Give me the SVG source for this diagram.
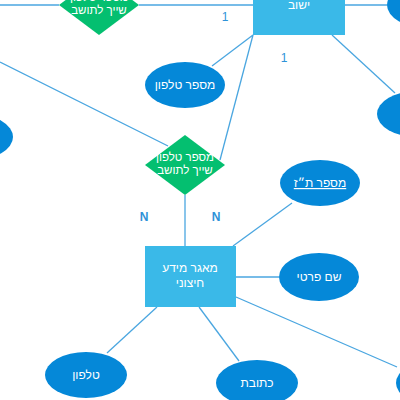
<svg xmlns="http://www.w3.org/2000/svg" width="400" height="400" viewBox="0 0 400 400">
<style>
.ent{fill:#3ab9e8;}
.attr{fill:#0588d8;}
.rel{fill:#04bf70;}
.t{fill:#ffffff;font-family:"Liberation Sans","DejaVu Sans",sans-serif;font-size:12px;text-anchor:middle;}
.t2{fill:#ffffff;font-family:"Liberation Sans","DejaVu Sans",sans-serif;font-size:11.5px;text-anchor:middle;}
.ln{stroke:#4aa6e0;stroke-width:1.3;fill:none;}
.lbl{fill:#2e92d8;font-family:"Liberation Sans","DejaVu Sans",sans-serif;font-size:12px;text-anchor:middle;}
.lblb{font-weight:bold;}
</style>
<rect width="400" height="400" fill="#ffffff"/>
<g id="connectors">
<line class="ln" x1="0" y1="5" x2="59" y2="5"/>
<line class="ln" x1="139" y1="5" x2="253" y2="5"/>
<line class="ln" x1="345" y1="5" x2="387" y2="5"/>
<line class="ln" x1="253" y1="35" x2="212" y2="66"/>
<line class="ln" x1="253" y1="35" x2="220" y2="160"/>
<line class="ln" x1="332" y1="35" x2="395" y2="93"/>
<line class="ln" x1="0" y1="62" x2="168" y2="146"/>
<line class="ln" x1="185" y1="195" x2="185" y2="246"/>
<line class="ln" x1="233" y1="246" x2="292" y2="203"/>
<line class="ln" x1="236" y1="277" x2="279" y2="277"/>
<line class="ln" x1="236" y1="297" x2="397" y2="367"/>
<line class="ln" x1="199" y1="307" x2="239" y2="361"/>
<line class="ln" x1="157" y1="307" x2="107" y2="353"/>
</g>
<g id="labels">
<text class="lbl" x="225" y="21">1</text>
<text class="lbl" x="284" y="62">1</text>
<text class="lbl lblb" x="144" y="221">N</text>
<text class="lbl lblb" x="216" y="221">N</text>
</g>
<g id="rel-top">
<polygon class="rel" points="99,-25 139,5 99,35 59,5"/>
<text class="t2" x="99" y="1">מספר טלפון</text>
<text class="t2" x="99" y="14">שייך לתושב</text>
</g>
<g id="ent-yishuv">
<rect class="ent" x="253" y="-26" width="92" height="61"/>
<text class="t" x="299" y="9">ישוב</text>
</g>
<g id="attr-topright">
<ellipse class="attr" cx="427" cy="5" rx="40" ry="23"/>
</g>
<g id="attr-phone-num">
<ellipse class="attr" cx="185" cy="85" rx="40" ry="23"/>
<text class="t" x="185" y="89">מספר טלפון</text>
</g>
<g id="attr-left">
<ellipse class="attr" cx="-27" cy="137" rx="40" ry="23"/>
</g>
<g id="attr-midright">
<ellipse class="attr" cx="417" cy="114" rx="40" ry="23"/>
</g>
<g id="rel-mid">
<polygon class="rel" points="185,135 225,165 185,195 145,165"/>
<text class="t2" x="185" y="161">מספר טלפון</text>
<text class="t2" x="185" y="174">שייך לתושב</text>
</g>
<g id="ent-external">
<rect class="ent" x="145" y="246" width="91" height="61"/>
<text class="t" x="190" y="272">מאגר מידע</text>
<text class="t" x="190" y="287">חיצוני</text>
</g>
<g id="attr-id">
<ellipse class="attr" cx="320" cy="183" rx="40" ry="23"/>
<text class="t" x="320" y="187" text-decoration="underline">מספר ת״ז</text>
</g>
<g id="attr-firstname">
<ellipse class="attr" cx="319" cy="277" rx="40" ry="24"/>
<text class="t" x="319" y="281">שם פרטי</text>
</g>
<g id="attr-phone">
<ellipse class="attr" cx="86" cy="375" rx="41" ry="23"/>
<text class="t" x="86" y="379">טלפון</text>
</g>
<g id="attr-address">
<ellipse class="attr" cx="257" cy="383" rx="41" ry="23"/>
<text class="t" x="257" y="387">כתובת</text>
</g>
<g id="attr-bottomright">
<ellipse class="attr" cx="436" cy="383" rx="40" ry="23"/>
</g>
</svg>
